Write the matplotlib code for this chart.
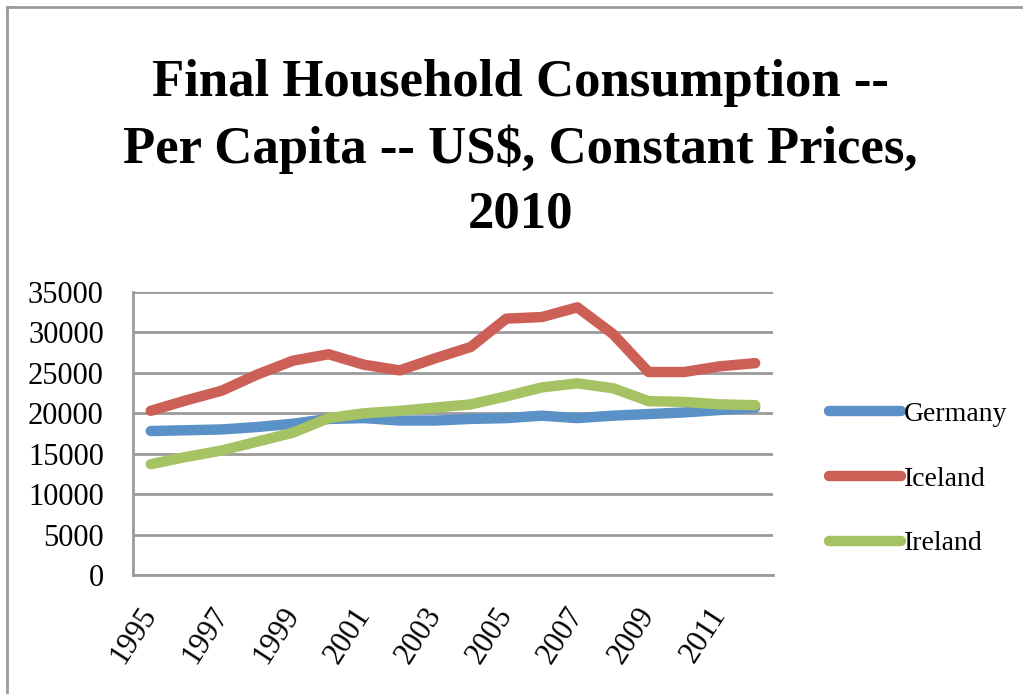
import matplotlib
matplotlib.use('Agg')
import matplotlib.pyplot as plt
from matplotlib.lines import Line2D

# Données
years = list(range(1995, 2013))
germany = [17800, 17900, 18000, 18300, 18700, 19300, 19400, 19100, 19100, 19300,
           19400, 19700, 19400, 19700, 19900, 20100, 20400, 20700]
iceland = [20300, 21600, 22800, 24800, 26500, 27300, 26000, 25300, 26800, 28200,
           31700, 31900, 33100, 29800, 25100, 25100, 25800, 26200]
ireland = [13700, 14600, 15400, 16500, 17600, 19400, 20000, 20300, 20700, 21100,
           22100, 23200, 23700, 23100, 21500, 21400, 21100, 21000]
series_names = ['Germany', 'Iceland', 'Ireland']
y_ticks = [0, 5000, 10000, 15000, 20000, 25000, 30000, 35000]
title = "Final Household Consumption --\nPer Capita -- US$, Constant Prices,\n2010"

colors = ['#5a91c6', '#cc5f56', '#a6c363']
grid_color = '#9a9a9a'
serif = ['Liberation Serif', 'DejaVu Serif']

fig = plt.figure(figsize=(10.23, 6.94), dpi=100)
ax = fig.add_axes([0.130, 0.1715, 0.6256, 0.4078])

x = list(range(len(years)))
for vals, name, c in zip([germany, iceland, ireland], series_names, colors):
    ax.plot(x, vals, color=c, lw=7.5, solid_capstyle='round',
            solid_joinstyle='round', label=name, zorder=3)

ax.set_xlim(-0.5, len(years) - 0.5)
ax.set_ylim(0, 35000)
ax.set_yticks(y_ticks)
ax.set_yticklabels([str(v) for v in y_ticks], family=serif, fontsize=22)
ax.set_xticks(x[::2])
ax.set_xticklabels([str(y) for y in years[::2]], family=serif, fontsize=22,
                   rotation=57, ha='right', va='center', rotation_mode='anchor')
ax.tick_params(axis='both', length=0)
ax.tick_params(axis='y', pad=21)
ax.tick_params(axis='x', pad=25)

ax.grid(axis='y', color=grid_color, lw=2)
ax.set_axisbelow(True)
for s in ['top', 'right']:
    ax.spines[s].set_visible(False)
for s in ['left', 'bottom']:
    ax.spines[s].set_color(grid_color)
    ax.spines[s].set_linewidth(2)

ax.legend(loc='center left', bbox_to_anchor=(0.797, 0.31),
          bbox_transform=fig.transFigure, frameon=False, borderpad=0,
          handlelength=2.6, handletextpad=0.1, labelspacing=1.42,
          prop={'family': serif, 'size': 20})

fig.text(0.509, 0.786, title, ha='center', va='center', family=serif,
         fontweight='bold', fontsize=38, linespacing=1.45)

# cadre gris du graphique
fig.add_artist(Line2D([7 / 1023, 1], [1 - 7 / 694, 1 - 7 / 694], color='#9a9a9a', lw=2))
fig.add_artist(Line2D([7 / 1023, 7 / 1023], [0, 1 - 7 / 694], color='#9a9a9a', lw=2))

fig.savefig('out.png', dpi=100)
